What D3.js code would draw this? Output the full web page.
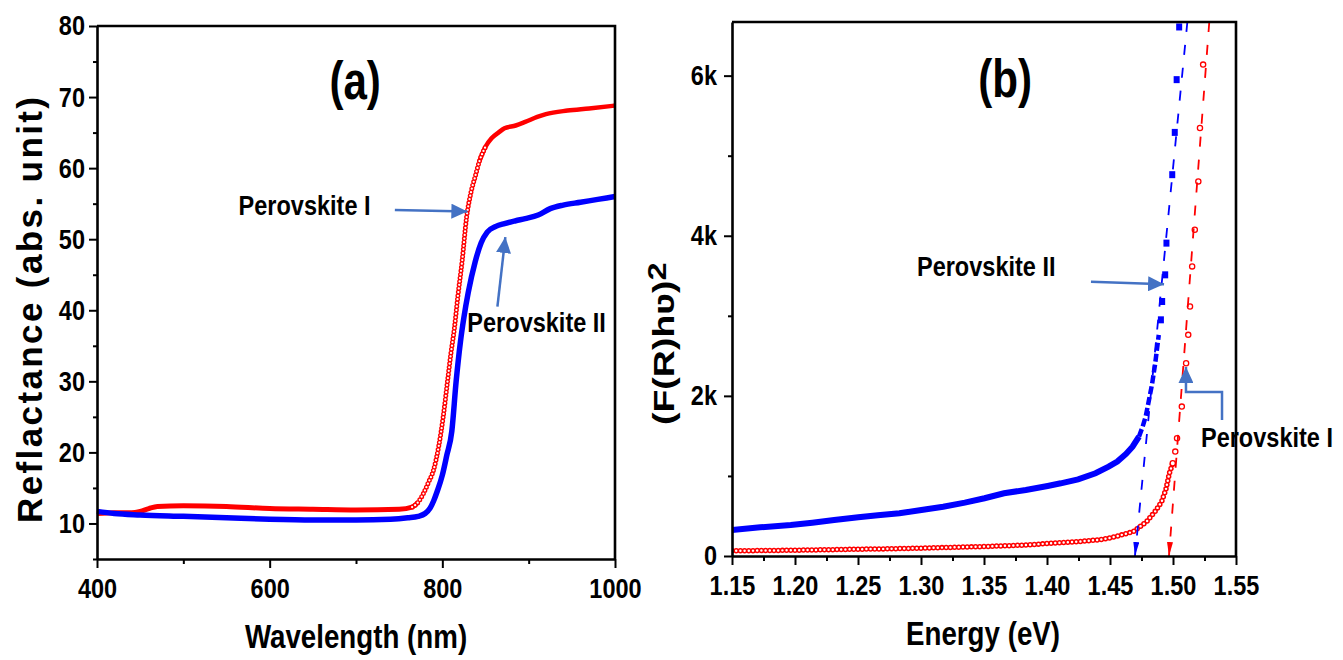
<!DOCTYPE html>
<html><head><meta charset="utf-8">
<script src="https://cdn.jsdelivr.net/npm/d3@7"></script>
<style>body{margin:0;background:#fff;} svg{display:block;}</style>
</head><body>
<svg id="c" width="1343" height="660"></svg>
<script>
// ---------- Panel (a): reflectance vs wavelength ----------
const wavelengthI = [400,420,440,450,460,470,500,550,600,650,700,750,765,772,778,784,790,796,801,806,810,814,818,823,828,833,838,843,850,857,865,872,885,896,910,920,945,970,1000];
const reflI       = [11.4,11.5,11.5,11.7,12.1,12.4,12.5,12.4,12.1,12.0,11.9,12.0,12.3,13.0,14.2,15.8,17.6,21.0,25.0,30.0,34.0,37.5,42.0,47.0,53.0,56.5,58.8,61.0,63.0,64.2,65.0,65.6,66.0,66.5,67.2,67.6,68.1,68.4,68.8];
const wavelengthII = [400,420,450,500,550,600,650,700,740,760,772,780,786,790,794,800,805,811,816,821,825,830,838,845,852,862,872,885,896,911,925,940,960,980,1000];
const reflII       = [11.7,11.4,11.2,11.0,10.8,10.6,10.5,10.5,10.6,10.8,11.0,11.4,12.2,13.2,14.5,16.8,19.5,23.0,30.0,35.6,39.0,42.5,46.8,49.5,51.0,51.8,52.2,52.6,52.9,53.4,54.3,54.8,55.2,55.6,56.0];
const xTicksA = [400,600,800,1000];
const xMinorA = [500,700,900];
const yTicksA = [10,20,30,40,50,60,70,80];
const yMinorA = [5,15,25,35,45,55,65,75];

// ---------- Panel (b): (F(R)hv)^2 vs energy ----------
const energyI = [1.15,1.175,1.20,1.225,1.25,1.275,1.30,1.325,1.35,1.38,1.40,1.425,1.4447,1.455,1.4685,1.4791,1.4857,1.491,1.4944,1.4971,1.4998,1.5018,1.5032,1.507,1.5104,1.5121,1.5135,1.5152,1.5173,1.5201,1.5214,1.5239];
const kmI     = [65,68,72,78,85,90,98,108,118,135,155,180,208,245,304,429,554,679,833,1033,1158,1304,1471,1866,2408,2762,3117,3617,4075,4679,5346,6138];
const energyII = [1.15,1.1724,1.1966,1.2138,1.2311,1.2502,1.2657,1.2829,1.3003,1.3176,1.3348,1.3504,1.3659,1.3832,1.4005,1.4109,1.4247,1.4385,1.4489,1.4558,1.4627,1.4679,1.473,1.4759,1.4783,1.4807,1.4835,1.4859,1.4887,1.4904,1.4914,1.4938,1.4948,1.4994,1.5014,1.5029,1.5049];
const kmII     = [325,358,387,416,450,483,508,533,575,616,666,721,783,825,875,908,958,1033,1116,1179,1275,1366,1491,1616,1741,1929,2158,2408,2762,2950,3179,3512,3908,4763,5291,5950,6608];
const fitEnergyI = [1.4968,1.5288];
const fitEnergyII = [1.4698,1.5114];
const fitKm = [0,6670];
const xTicksB = [1.15,1.20,1.25,1.30,1.35,1.40,1.45,1.50,1.55];
const xMinorB = [1.175,1.225,1.275,1.325,1.375,1.425,1.475,1.525];
const yTicksB = [0,2000,4000,6000];
const yMinorB = [1000,3000,5000];

// ---------- styling ----------
const FONT = "'Liberation Sans',Arial,sans-serif";
const SQ = 0.84; // horizontal squeeze to mimic a narrow bold face
const RED = "#ff0000", BLUE = "#0000ff", ARROW = "#4472c4";

const svg = d3.select("#c");
const defs = svg.append("defs");
function marker(id, color, len, wid) {
  defs.append("marker").attr("id", id).attr("markerUnits","userSpaceOnUse")
    .attr("markerWidth", len).attr("markerHeight", wid)
    .attr("refX", len).attr("refY", wid/2).attr("orient","auto")
    .append("path").attr("d", `M0,0L${len},${wid/2}L0,${wid}Z`).attr("fill", color);
}
marker("arr", ARROW, 16, 15);
marker("tipB", BLUE, 14, 6);
marker("tipR", RED, 14, 6);

function zip(xs, ys){ return xs.map((x,i)=>[x, ys[i]]); }

function ntext(g, x, y, str, size, anchor, sq) {
  return g.append("text").attr("transform", `translate(${x},${y}) scale(${sq||SQ},1)`)
    .attr("text-anchor", anchor || "start").attr("font-family", FONT).attr("font-weight","bold")
    .attr("font-size", size).attr("fill","#000").text(str);
}

function frame(g, x, y, xt, xm, yt, ym, xfmt, yfmt, ypad) {
  const [x0,x1] = x.range(), [y0,y1] = y.range();
  const ax = g.append("g").attr("transform",`translate(0,${y0})`)
    .call(d3.axisBottom(x).tickValues(xt).tickSize(9).tickSizeOuter(0).tickPadding(6).tickFormat(xfmt));
  g.append("g").attr("transform",`translate(0,${y0})`)
    .call(d3.axisBottom(x).tickValues(xm).tickSize(5).tickSizeOuter(0).tickFormat(""))
    .select(".domain").remove();
  const ay = g.append("g").attr("transform",`translate(${x0},0)`)
    .call(d3.axisLeft(y).tickValues(yt).tickSize(8).tickSizeOuter(0).tickFormat(yfmt));
  g.append("g").attr("transform",`translate(${x0},0)`)
    .call(d3.axisLeft(y).tickValues(ym).tickSize(4).tickSizeOuter(0).tickFormat(""))
    .select(".domain").remove();
  g.selectAll(".domain").attr("stroke","#000").attr("stroke-width",2.6);
  g.selectAll(".tick line").attr("stroke","#000").attr("stroke-width",2);
  g.selectAll(".tick text").attr("fill","#000").attr("font-family",FONT)
    .attr("font-weight","bold").attr("font-size",28).attr("transform",`scale(${SQ},1)`);
  ax.selectAll(".tick text").attr("dy","0.85em");
  ay.selectAll(".tick text").attr("x", -ypad / SQ);
  g.append("path").attr("d",`M${x0},${y1}H${x1}V${y0}`).attr("fill","none")
    .attr("stroke","#000").attr("stroke-width",2.6);
}

function openCircleChain(g, pts, line, d, gap) {
  g.append("path").attr("d", line(pts)).attr("fill","none").attr("stroke",RED)
    .attr("stroke-width", d).attr("stroke-linecap","round").attr("stroke-dasharray",`0,${gap}`);
  g.append("path").attr("d", line(pts)).attr("fill","none").attr("stroke","#fff")
    .attr("stroke-width", d*0.45).attr("stroke-linecap","round").attr("stroke-dasharray",`0,${gap}`);
}

// ================= Panel (a) =================
{
  const x = d3.scaleLinear().domain([400,1000]).range([97,615]);
  const y = d3.scaleLinear().domain([5,80]).range([559,26]);
  const g = svg.append("g");
  const line = d3.line().x(d=>x(d[0])).y(d=>y(d[1])).curve(d3.curveMonotoneX);
  const I = zip(wavelengthI, reflI), II = zip(wavelengthII, reflII);

  g.append("path").attr("d", line(I.filter(d=>d[0]<=772))).attr("fill","none")
    .attr("stroke",RED).attr("stroke-width",5);
  g.append("path").attr("d", line(I.filter(d=>d[0]>=843))).attr("fill","none")
    .attr("stroke",RED).attr("stroke-width",4.5);
  openCircleChain(g, I.filter(d=>d[0]>=765 && d[0]<=850), line, 5, 3.6);
  g.append("path").attr("d", line(II)).attr("fill","none")
    .attr("stroke",BLUE).attr("stroke-width",5.5);

  frame(g, x, y, xTicksA, xMinorA, yTicksA, yMinorA, d3.format("d"), d3.format("d"), 12);

  ntext(g, x(699), y(69.7), "(a)", 54, "middle", 0.78);
  ntext(g, x(564), y(53.4), "Perovskite I", 28);
  ntext(g, x(829), y(37), "Perovskite II", 28);
  g.append("line").attr("x1",x(745)).attr("y1",y(54.1)).attr("x2",x(829)).attr("y2",y(53.9))
    .attr("stroke",ARROW).attr("stroke-width",2.5).attr("marker-end","url(#arr)");
  g.append("line").attr("x1",x(863.8)).attr("y1",y(40.5)).attr("x2",x(873)).attr("y2",y(50.3))
    .attr("stroke",ARROW).attr("stroke-width",2.5).attr("marker-end","url(#arr)");

  ntext(g, 356, 648, "Wavelength (nm)", 33, "middle");
  g.append("text").attr("transform","translate(42,310) rotate(-90)").attr("text-anchor","middle")
    .attr("font-family",FONT).attr("font-weight","bold").attr("font-size",35)
    .attr("textLength",426).attr("lengthAdjust","spacing").text("Reflactance (abs. unit)");
}

// ================= Panel (b) =================
{
  const x = d3.scaleLinear().domain([1.15,1.55]).range([732,1236]);
  const y = d3.scaleLinear().domain([0,6670]).range([556,22]);
  const g = svg.append("g");
  defs.append("clipPath").attr("id","clipB").append("rect")
    .attr("x",732).attr("y",22).attr("width",504).attr("height",534);
  const pg = g.append("g").attr("clip-path","url(#clipB)");
  const line = d3.line().x(d=>x(d[0])).y(d=>y(d[1]));
  const I = zip(energyI, kmI), II = zip(energyII, kmII);

  pg.append("path").attr("d", line(II.filter(d=>d[1]<=1500))).attr("fill","none")
    .attr("stroke",BLUE).attr("stroke-width",6);
  pg.append("path").attr("d", line(II.filter(d=>d[1]>=1491 && d[1]<=2800))).attr("fill","none")
    .attr("stroke",BLUE).attr("stroke-width",4.5).attr("stroke-dasharray","8,3");
  pg.selectAll("rect.sqII").data(II.filter(d=>d[1]>2900)).join("rect").attr("class","sqII")
    .attr("x",d=>x(d[0])-3).attr("y",d=>y(d[1])-3.5).attr("width",6).attr("height",7).attr("fill",BLUE);

  openCircleChain(pg, I.filter(d=>d[1]<=1200), line, 5.5, 4.2);
  pg.selectAll("circle.cI").data(I.filter(d=>d[1]>1100)).join("circle").attr("class","cI")
    .attr("cx",d=>x(d[0])).attr("cy",d=>y(d[1])).attr("r",2.6)
    .attr("fill","#fff").attr("stroke",RED).attr("stroke-width",1.3);

  pg.append("path").attr("d", line(zip(fitEnergyII, fitKm).reverse())).attr("fill","none")
    .attr("stroke",BLUE).attr("stroke-width",1.8).attr("stroke-dasharray","10,13")
    .attr("marker-end","url(#tipB)");
  pg.append("path").attr("d", line(zip(fitEnergyI, fitKm).reverse())).attr("fill","none")
    .attr("stroke",RED).attr("stroke-width",1.8).attr("stroke-dasharray","10,13")
    .attr("marker-end","url(#tipR)");

  frame(g, x, y, xTicksB, xMinorB, yTicksB, yMinorB, d3.format(".2f"), d=> d===0 ? "0" : (d/1000)+"k", 15);

  ntext(g, x(1.3667), y(5737), "(b)", 54, "middle", 0.78);
  ntext(g, x(1.2968), y(3500), "Perovskite II", 28);
  g.append("line").attr("x1",x(1.4349)).attr("y1",y(3425)).attr("x2",x(1.4929)).attr("y2",y(3394))
    .attr("stroke",ARROW).attr("stroke-width",2.5).attr("marker-end","url(#arr)");
  ntext(g, x(1.5222), y(1366), "Perovskite I", 28);
  g.append("path").attr("d", d3.line()([[x(1.5389),y(1700)],[x(1.5389),y(2050)],[x(1.5103),y(2050)],[x(1.5103),y(2362)]]))
    .attr("fill","none").attr("stroke",ARROW).attr("stroke-width",2.5).attr("marker-end","url(#arr)");

  ntext(g, 983, 645, "Energy (eV)", 33, "middle");
  const yl = g.append("text").attr("transform","translate(674,425) rotate(-90) scale(1.25,1)")
    .attr("text-anchor","start").attr("font-family",FONT).attr("font-weight","bold").attr("font-size",30);
  yl.append("tspan").text("(F(R)h\u028B)");
  yl.append("tspan").attr("dy",-8).attr("font-size",26).text("2");
}
</script>
</body></html>
